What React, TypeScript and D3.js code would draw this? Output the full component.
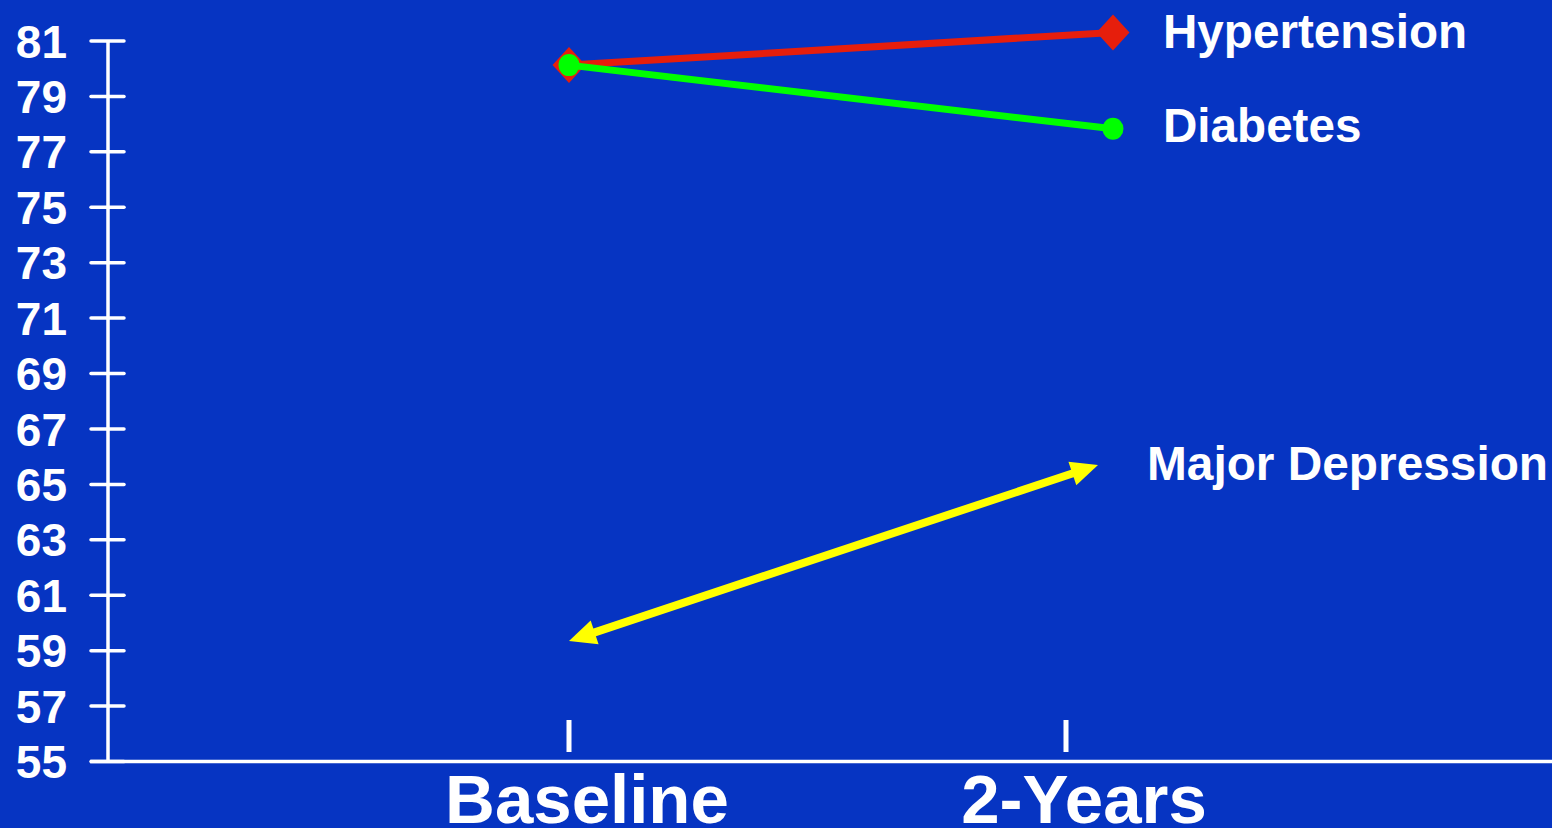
import React from "react";
import * as d3 from "d3";

const categories = ["Baseline", "2-Years"];
const yTicks = [55, 57, 59, 61, 63, 65, 67, 69, 71, 73, 75, 77, 79, 81];
const hypertension = [80.13, 81.31];
const diabetes = [80.13, 77.83];
const depression = [59.35, 65.7];
const seriesNames = ["Hypertension", "Diabetes", "Major Depression"];

const W = 1552;
const H = 828;
const BG = "#0634C2";
const FONT = "'Liberation Sans', Arial, sans-serif";

export default function App() {
  const y = d3.scaleLinear().domain([55, 81]).range([761.5, 41]);
  const xTick = d3.scalePoint<string>().domain(categories).range([569, 1066]);
  const xData = d3.scalePoint<string>().domain(categories).range([569, 1113]);

  const line = d3
    .line<[string, number]>()
    .x((d) => xData(d[0]) as number)
    .y((d) => y(d[1]));

  const hyp: [string, number][] = categories.map((c, i) => [c, hypertension[i]]);
  const dia: [string, number][] = categories.map((c, i) => [c, diabetes[i]]);

  // depression arrow
  const ax1 = xData(categories[0]) as number;
  const ay1 = y(depression[0]);
  const ax2 = (xData(categories[1]) as number) - 15;
  const ay2 = y(depression[1]);
  const ang = Math.atan2(ay2 - ay1, ax2 - ax1);
  const headL = 27;
  const headW = 12.5;
  const head = (tx: number, ty: number, a: number) => {
    const bx = tx - headL * Math.cos(a);
    const by = ty - headL * Math.sin(a);
    const px = -Math.sin(a) * headW;
    const py = Math.cos(a) * headW;
    return `M${tx},${ty}L${bx + px},${by + py}L${bx - px},${by - py}Z`;
  };
  const inset = 20;

  const diamond = (cx: number, cy: number) =>
    `M${cx},${cy - 18}L${cx + 16.5},${cy}L${cx},${cy + 18}L${cx - 16.5},${cy}Z`;

  return (
    <svg
      width={W}
      height={H}
      style={{ position: "absolute", left: 0, top: 0, display: "block" }}
    >
      <rect x={0} y={0} width={W} height={H} fill={BG} />

      {/* y axis */}
      <line x1={108} x2={108} y1={y(81)} y2={y(55)} stroke="#fff" strokeWidth={3.5} />
      {yTicks.map((t) => (
        <g key={t}>
          <line
            x1={91}
            x2={124}
            y1={y(t)}
            y2={y(t)}
            stroke="#fff"
            strokeWidth={3.5}
            strokeLinecap="round"
          />
          <text
            x={67}
            y={y(t)}
            dy="0.36em"
            textAnchor="end"
            fill="#fff"
            fontFamily={FONT}
            fontWeight="bold"
            fontSize={46}
          >
            {t}
          </text>
        </g>
      ))}

      {/* x axis */}
      <line x1={90} x2={W} y1={y(55)} y2={y(55)} stroke="#fff" strokeWidth={3.5} />
      {categories.map((c) => (
        <g key={c}>
          <rect
            x={(xTick(c) as number) - 2.5}
            y={720}
            width={5}
            height={32}
            fill="#fff"
          />
          <text
            x={(xTick(c) as number) + 18}
            y={823}
            textAnchor="middle"
            fill="#fff"
            fontFamily={FONT}
            fontWeight="bold"
            fontSize={69}
          >
            {c}
          </text>
        </g>
      ))}

      {/* Hypertension */}
      <path d={line(hyp) ?? ""} fill="none" stroke="#E61E0C" strokeWidth={7} />
      {hyp.map((d, i) => (
        <path key={i} d={diamond(xData(d[0]) as number, y(d[1]))} fill="#E61E0C" />
      ))}

      {/* Diabetes */}
      <path d={line(dia) ?? ""} fill="none" stroke="#00FF00" strokeWidth={7} />
      {dia.map((d, i) => (
        <ellipse
          key={i}
          cx={xData(d[0]) as number}
          cy={y(d[1])}
          rx={10.5}
          ry={11}
          fill="#00FF00"
        />
      ))}

      {/* Major depression arrow */}
      <line
        x1={ax1 + inset * Math.cos(ang)}
        y1={ay1 + inset * Math.sin(ang)}
        x2={ax2 - inset * Math.cos(ang)}
        y2={ay2 - inset * Math.sin(ang)}
        stroke="#FFFF00"
        strokeWidth={8}
      />
      <path d={head(ax2, ay2, ang)} fill="#FFFF00" />
      <path d={head(ax1, ay1, ang + Math.PI)} fill="#FFFF00" />

      {/* series labels */}
      <text x={1163} y={48} fill="#fff" fontFamily={FONT} fontWeight="bold" fontSize={47.6}>
        {seriesNames[0]}
      </text>
      <text x={1163} y={142} fill="#fff" fontFamily={FONT} fontWeight="bold" fontSize={47.6}>
        {seriesNames[1]}
      </text>
      <text x={1147} y={480} fill="#fff" fontFamily={FONT} fontWeight="bold" fontSize={47.8}>
        {seriesNames[2]}
      </text>
    </svg>
  );
}
